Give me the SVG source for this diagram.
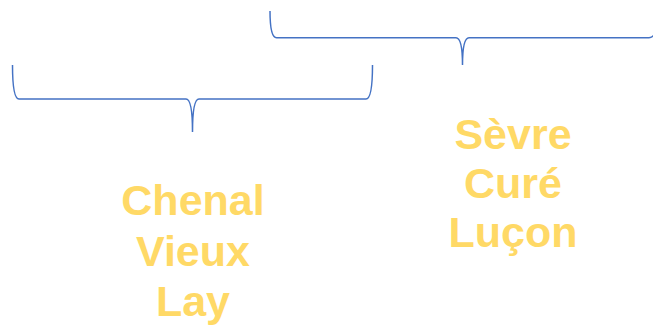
<svg xmlns="http://www.w3.org/2000/svg" width="653" height="327" viewBox="0 0 653 327">
<style>
.brace{fill:none;stroke:#4472C4;stroke-width:1.5}
.lbl{font-family:"Liberation Sans",Arial,sans-serif;font-weight:bold;font-size:43px;fill:#FFD966;text-anchor:middle}
</style>
<rect width="653" height="327" fill="#FFFFFF"/>
<g id="connectors">
<path class="brace" d="M12.5,65 Q12.5,99 19,99 L186,99 Q192.5,99 192.5,132 Q192.5,99 199,99 L366,99 Q372.5,99 372.5,65"/>
<path class="brace" d="M270,11 Q270,37.7 276.5,37.7 L456,37.7 Q462.5,37.7 462.5,65 Q462.5,37.7 469,37.7 L649,37.7 Q658,37.7 658,11"/>
</g>
<g id="node-left">
<text class="lbl" x="193" y="215">Chenal</text>
<text class="lbl" x="193" y="266">Vieux</text>
<text class="lbl" x="193" y="316">Lay</text>
</g>
<g id="node-right">
<text class="lbl" x="513" y="149">Sèvre</text>
<text class="lbl" x="513" y="198">Curé</text>
<text class="lbl" x="513" y="247">Luçon</text>
</g>
</svg>
